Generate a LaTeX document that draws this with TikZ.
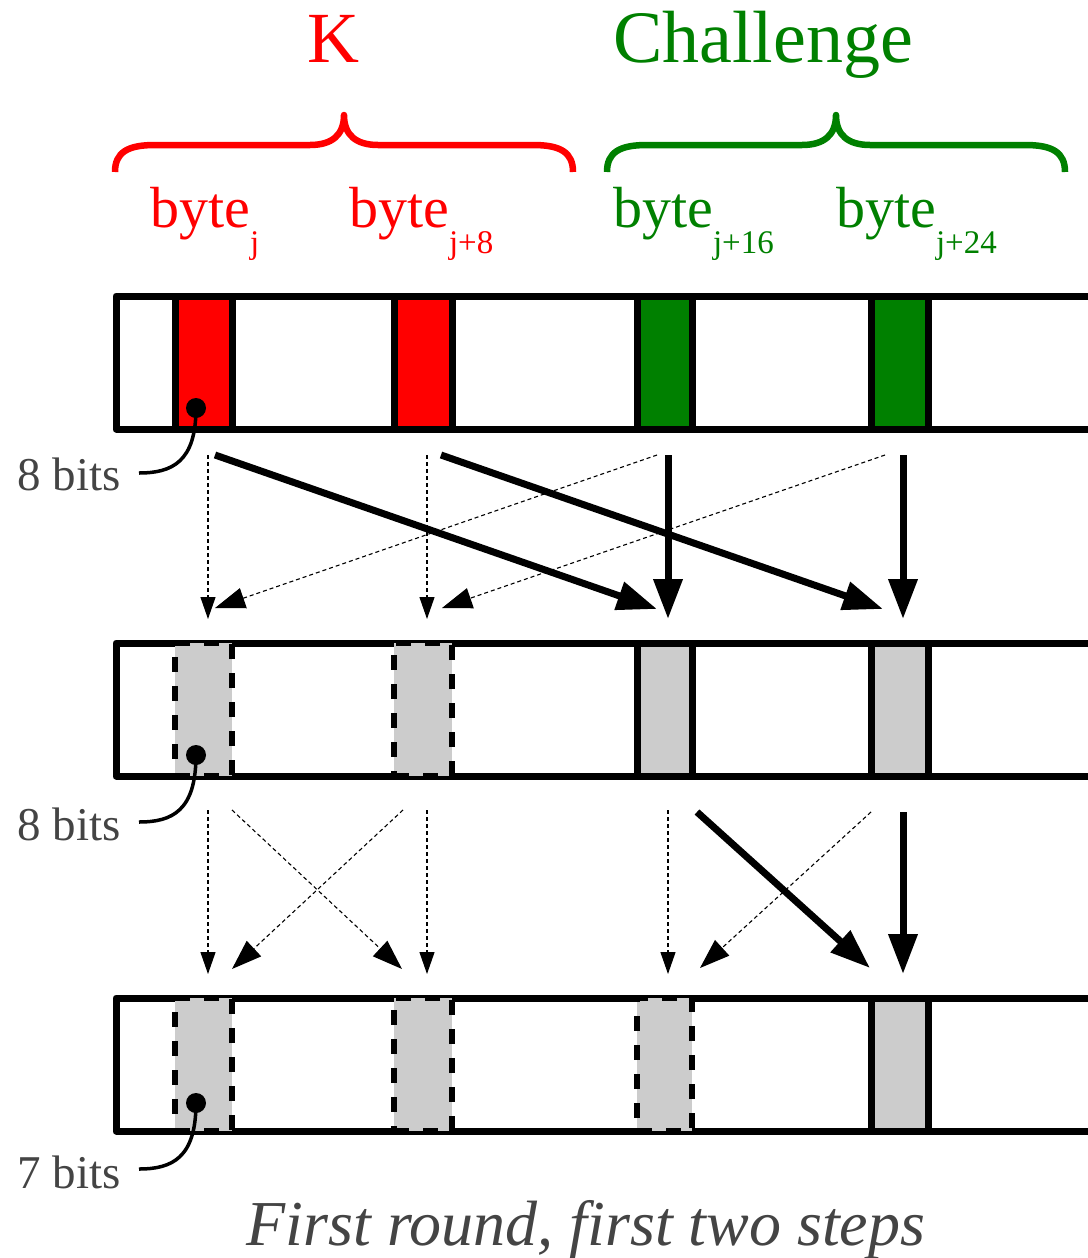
\documentclass[tikz,border=0pt]{standalone}
\usepackage{fontspec}
\setmainfont{Liberation Serif}
\usetikzlibrary{arrows.meta}
\definecolor{kred}{RGB}{255,0,0}
\definecolor{cgreen}{RGB}{0,128,0}
\definecolor{cellgray}{RGB}{204,204,204}
\definecolor{txtgray}{RGB}{68,68,68}
\begin{document}
\begin{tikzpicture}[x=1pt,y=-1pt,
  rowbox/.style={draw=black, line width=7pt, line join=round},
  cellbase/.style={minimum width=57pt, minimum height=133pt, inner sep=0pt, outer sep=0pt},
  solidcell/.style={cellbase, draw=black, line width=7pt},
  dashcell/.style={cellbase, fill=cellgray, draw=black, line width=6.5pt, dash pattern=on 15pt off 14pt},
  brace/.style={line width=6.5pt, line join=round},
  thinv/.style={line width=1.1pt, dash pattern=on 4pt off 3pt, -{Triangle[length=22pt,width=15pt]}},
  thind/.style={line width=1.1pt, dash pattern=on 4pt off 3pt, -{Triangle[length=30pt,width=21pt]}},
  thick/.style={line width=7pt, -{Triangle[length=40pt,width=28pt]}},
  bitlabel/.style={text=txtgray, anchor=base east, inner sep=0pt, font=\fontsize{47}{47}\selectfont},
  pointer/.style={line width=3.5pt},
  bytelabel/.style={anchor=base west, inner sep=0pt, font=\fontsize{58}{58}\selectfont},
]
\useasboundingbox (0,0) rectangle (1087,1258);

% titles
\node[text=kred, anchor=base, inner sep=0pt, font=\fontsize{72}{72}\selectfont] (ktitle) at (333,62) {K};
\node[text=cgreen, anchor=base, inner sep=0pt, font=\fontsize{74}{74}\selectfont] (ctitle) at (763,62) {Challenge};

% braces
\draw[brace, kred] (115,172) .. controls (115,152) and (128,145) .. (155,145) -- (310,145)
  .. controls (332,145) and (344,135) .. (344,115)
  .. controls (344,135) and (356,145) .. (378,145) -- (533,145)
  .. controls (560,145) and (573,152) .. (573,172);
\draw[brace, cgreen] (607,172) .. controls (607,152) and (620,145) .. (647,145) -- (802,145)
  .. controls (824,145) and (836,135) .. (836,115)
  .. controls (836,135) and (848,145) .. (870,145) -- (1025,145)
  .. controls (1052,145) and (1065,152) .. (1065,172);

% byte labels
\newcommand{\bsub}[1]{\raisebox{-26pt}{\fontsize{33}{33}\selectfont #1}}
\node[bytelabel, text=kred] (b1) at (150,227) {byte\bsub{j}};
\node[bytelabel, text=kred] (b2) at (349,227) {byte\bsub{j+8}};
\node[bytelabel, text=cgreen] (b3) at (613,227) {byte\bsub{j+16}};
\node[bytelabel, text=cgreen] (b4) at (836,227) {byte\bsub{j+24}};

% rows
\draw[rowbox] (116,296) rectangle (1110,429);
\draw[rowbox] (116,643) rectangle (1110,776);
\draw[rowbox] (116,998) rectangle (1110,1131);

% row 1 cells
\node[solidcell, fill=kred] (r1c1) at (203.5,362.5) {};
\node[solidcell, fill=kred, minimum width=58pt] (r1c2) at (423,362.5) {};
\node[solidcell, fill=cgreen, minimum width=55pt] (r1c3) at (664.5,362.5) {};
\node[solidcell, fill=cgreen] (r1c4) at (899.5,362.5) {};

% row 2 cells
\node[dashcell] (r2c1) at (203.5,709.5) {};
\node[dashcell, minimum width=58pt] (r2c2) at (423,709.5) {};
\node[solidcell, fill=cellgray, minimum width=55pt] (r2c3) at (664.5,709.5) {};
\node[solidcell, fill=cellgray] (r2c4) at (899.5,709.5) {};

% row 3 cells
\node[dashcell] (r3c1) at (203.5,1064.5) {};
\node[dashcell, minimum width=58pt] (r3c2) at (423,1064.5) {};
\node[dashcell, minimum width=55pt] (r3c3) at (664.5,1064.5) {};
\node[solidcell, fill=cellgray] (r3c4) at (899.5,1064.5) {};

% bit pointers
\fill (196,408) circle (10pt) coordinate (d1);
\fill (196,755) circle (10pt) coordinate (d2);
\fill (196,1103) circle (10pt) coordinate (d3);
\node[bitlabel] (l1) at (121,490) {8 bits};
\node[bitlabel] (l2) at (121,840) {8 bits};
\node[bitlabel] (l3) at (121,1188) {7 bits};
\coordinate (e1) at (139,473);
\coordinate (e2) at (139,822);
\coordinate (e3) at (139,1169);
\draw[pointer] (d1) .. controls (196,462) and (172,473) .. (e1);
\draw[pointer] (d2) .. controls (196,811) and (172,822) .. (e2);
\draw[pointer] (d3) .. controls (196,1158) and (172,1169) .. (e3);

% arrows row1 -> row2
\coordinate (a1s) at (208,455); \coordinate (a1e) at (208,619);
\coordinate (a2s) at (427,455); \coordinate (a2e) at (427,619);
\coordinate (a3s) at (215,455); \coordinate (a3e) at (657,609);
\coordinate (a4s) at (441,455); \coordinate (a4e) at (883,609);
\coordinate (a5s) at (668,455); \coordinate (a5e) at (668,619);
\coordinate (a6s) at (903,455); \coordinate (a6e) at (903,619);
\coordinate (a7s) at (657,455); \coordinate (a7e) at (215,608);
\coordinate (a8s) at (885,455); \coordinate (a8e) at (442,608);
\draw[thinv] (a1s) -- (a1e);
\draw[thinv] (a2s) -- (a2e);
\draw[thind] (a7s) -- (a7e);
\draw[thind] (a8s) -- (a8e);
\draw[thick] (a3s) -- (a3e);
\draw[thick] (a4s) -- (a4e);
\draw[thick] (a5s) -- (a5e);
\draw[thick] (a6s) -- (a6e);

% arrows row2 -> row3
\coordinate (b1s) at (208,810); \coordinate (b1e) at (208,974);
\coordinate (b2s) at (427,810); \coordinate (b2e) at (427,974);
\coordinate (b3s) at (668,810); \coordinate (b3e) at (668,974);
\coordinate (b4s) at (232,810); \coordinate (b4e) at (402,969);
\coordinate (b5s) at (403,810); \coordinate (b5e) at (232,969);
\coordinate (b6s) at (871,812); \coordinate (b6e) at (700,968);
\coordinate (b7s) at (697,812); \coordinate (b7e) at (870,968);
\coordinate (b8s) at (903,812); \coordinate (b8e) at (903,974);
\draw[thinv] (b1s) -- (b1e);
\draw[thinv] (b2s) -- (b2e);
\draw[thinv] (b3s) -- (b3e);
\draw[thind] (b4s) -- (b4e);
\draw[thind] (b5s) -- (b5e);
\draw[thind] (b6s) -- (b6e);
\draw[thick] (b7s) -- (b7e);
\draw[thick] (b8s) -- (b8e);

% caption
\node[text=txtgray, anchor=base, inner sep=0pt, font=\itshape\fontsize{64}{64}\selectfont] (cap) at (586,1245) {First round, first two steps};
\end{tikzpicture}
\end{document}
